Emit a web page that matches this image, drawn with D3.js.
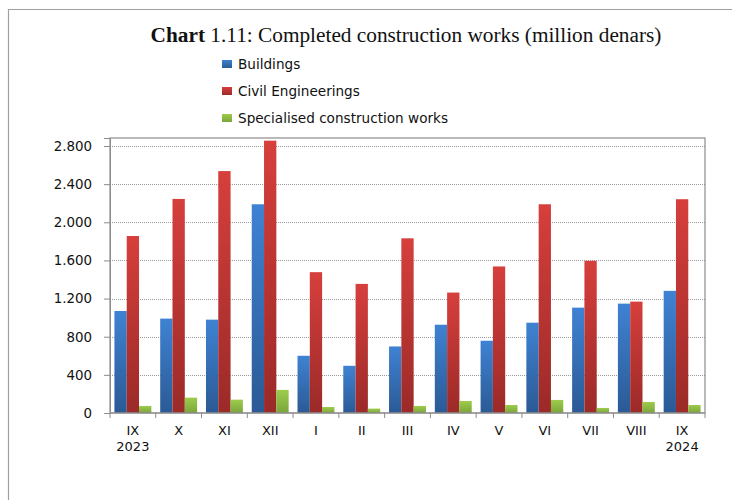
<!DOCTYPE html>
<html>
<head>
<meta charset="utf-8">
<script src="https://cdn.jsdelivr.net/npm/d3@7"></script>
<style>
  body { margin: 0; background: #fff; }
  svg { display: block; }
</style>
</head>
<body>
<div id="chart"></div>
<script>
(function() {
  var width = 732,
      height = 500;

  // data
  var months = ["IX", "X", "XI", "XII", "I", "II", "III", "IV", "V", "VI", "VII", "VIII", "IX"];
  var years = ["2023", "", "", "", "", "", "", "", "", "", "", "", "2024"];
  var buildings = [1070, 990, 979, 2189, 600, 495, 698, 926, 758, 947, 1105, 1147, 1281];
  var civil = [1856, 2245, 2537, 2856, 1477, 1354, 1832, 1263, 1537, 2189, 1596, 1168, 2242];
  var special = [74, 161, 140, 242, 63, 46, 74, 126, 84, 137, 53, 116, 84];
  var seriesNames = ["Buildings", "Civil Engineerings", "Specialised construction works"];
  var yTicks = [0, 400, 800, 1200, 1600, 2000, 2400, 2800];

  var colors = [
    {top: "#3f82d3", bottom: "#2b5a95"},
    {top: "#d63f3c", bottom: "#9b2a28"},
    {top: "#9dcc4c", bottom: "#7ba53a"}
  ];

  var sans = "'DejaVu Sans', Verdana, sans-serif";
  var margin = {top: 138, right: 27, bottom: 87, left: 110};

  var svg = d3.select("#chart")
    .append("svg")
    .attr("width", width)
    .attr("height", height);

  var defs = svg.append("defs");
  colors.forEach(function(c, i) {
    var g = defs.append("linearGradient")
      .attr("id", "grad" + i)
      .attr("x1", 0).attr("y1", 0)
      .attr("x2", 0).attr("y2", 1);
    g.append("stop").attr("offset", "0%").attr("stop-color", c.top);
    g.append("stop").attr("offset", "100%").attr("stop-color", c.bottom);
  });

  // outer frame (only top and left edges show)
  svg.append("line")
    .attr("x1", 8).attr("x2", width).attr("y1", 9.5).attr("y2", 9.5)
    .attr("stroke", "#a0a0a0").attr("stroke-width", 1.2);
  svg.append("line")
    .attr("x1", 8.5).attr("x2", 8.5).attr("y1", 9).attr("y2", height)
    .attr("stroke", "#a0a0a0").attr("stroke-width", 1.2);

  // title
  var title = svg.append("text")
    .attr("x", 406)
    .attr("y", 42)
    .attr("text-anchor", "middle")
    .attr("font-family", "'Liberation Serif', 'DejaVu Serif', serif")
    .attr("font-size", 21.3)
    .attr("fill", "#111");
  title.append("tspan").attr("font-weight", "bold").text("Chart ");
  title.append("tspan").text("1.11: Completed construction works (million denars)");

  // legend
  var legend = svg.append("g").attr("transform", "translate(222,64)");
  seriesNames.forEach(function(name, i) {
    var row = legend.append("g").attr("transform", "translate(0," + (i * 27) + ")");
    row.append("rect")
      .attr("x", 0).attr("y", -4)
      .attr("width", 10).attr("height", 8)
      .attr("fill", "url(#grad" + i + ")");
    row.append("text")
      .attr("x", 16).attr("y", 5)
      .attr("font-family", sans)
      .attr("font-size", 13.6)
      .attr("fill", "#111")
      .text(name);
  });

  var innerW = width - margin.left - margin.right,
      innerH = height - margin.top - margin.bottom;

  var g = svg.append("g")
    .attr("transform", "translate(" + margin.left + "," + margin.top + ")");

  var x = d3.scaleBand()
    .domain(d3.range(months.length))
    .range([0, innerW]);

  var x1 = d3.scaleBand()
    .domain([0, 1, 2])
    .range([0, x.bandwidth()])
    .paddingOuter(0.36)
    .paddingInner(0);

  var y = d3.scaleLinear()
    .domain([0, 2884])
    .range([innerH, 0]);

  // dotted gridlines
  g.selectAll(".grid")
    .data(yTicks.slice(1))
    .enter().append("line")
    .attr("class", "grid")
    .attr("x1", 0).attr("x2", innerW)
    .attr("y1", function(d) { return Math.round(y(d)) + 0.5; })
    .attr("y2", function(d) { return Math.round(y(d)) + 0.5; })
    .attr("stroke", "#9a9a9a")
    .attr("stroke-width", 1)
    .attr("stroke-dasharray", "1,1");

  // bars
  var data = months.map(function(m, i) {
    return [buildings[i], civil[i], special[i]];
  });

  var groups = g.selectAll(".cat")
    .data(data)
    .enter().append("g")
    .attr("class", "cat")
    .attr("transform", function(d, i) { return "translate(" + x(i) + ",0)"; });

  groups.selectAll("rect")
    .data(function(d) { return d; })
    .enter().append("rect")
    .attr("x", function(d, j) { return x1(j); })
    .attr("y", function(d) { return y(d); })
    .attr("width", x1.bandwidth())
    .attr("height", function(d) { return innerH - y(d); })
    .attr("fill", function(d, j) { return "url(#grad" + j + ")"; });

  // plot frame
  g.append("rect")
    .attr("x", 0).attr("y", 0)
    .attr("width", innerW).attr("height", innerH)
    .attr("fill", "none")
    .attr("stroke", "#8c8c8c")
    .attr("stroke-width", 1.2);

  // y axis
  var yAxis = g.append("g")
    .call(d3.axisLeft(y).tickValues(yTicks).tickSize(6).tickPadding(12)
      .tickFormat(function(d) { return d3.format(",")(d).replace(/,/g, "."); }));
  yAxis.select(".domain").attr("stroke", "#8c8c8c");
  yAxis.selectAll(".tick line").attr("stroke", "#8c8c8c");
  yAxis.selectAll("text")
    .attr("font-family", sans)
    .attr("font-size", 13.4)
    .attr("fill", "#111");

  // x axis ticks between categories
  var xAxis = g.append("g").attr("transform", "translate(0," + innerH + ")");
  xAxis.append("line")
    .attr("x1", 0).attr("x2", innerW)
    .attr("stroke", "#8c8c8c").attr("stroke-width", 1.2);
  xAxis.selectAll(".xtick")
    .data(d3.range(months.length + 1))
    .enter().append("line")
    .attr("class", "xtick")
    .attr("x1", function(i) { return i < months.length ? x(i) : innerW; })
    .attr("x2", function(i) { return i < months.length ? x(i) : innerW; })
    .attr("y1", 0).attr("y2", 5)
    .attr("stroke", "#8c8c8c");

  xAxis.selectAll(".xlabel")
    .data(months)
    .enter().append("text")
    .attr("class", "xlabel")
    .attr("x", function(d, i) { return x(i) + x.bandwidth() / 2; })
    .attr("y", 22)
    .attr("text-anchor", "middle")
    .attr("font-family", sans)
    .attr("font-size", 13)
    .attr("fill", "#111")
    .text(function(d) { return d; });

  xAxis.selectAll(".yearlabel")
    .data(years)
    .enter().append("text")
    .attr("class", "yearlabel")
    .attr("x", function(d, i) { return x(i) + x.bandwidth() / 2; })
    .attr("y", 38)
    .attr("text-anchor", "middle")
    .attr("font-family", sans)
    .attr("font-size", 13)
    .attr("fill", "#111")
    .text(function(d) { return d; });
})();
</script>
</body>
</html>
